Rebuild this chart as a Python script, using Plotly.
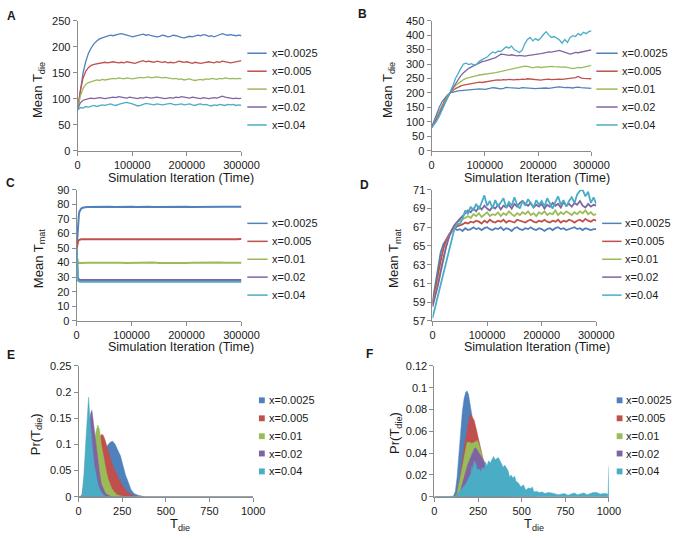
import plotly.graph_objects as go

W, H = 688, 539
FONT = "Liberation Sans, Arial, sans-serif"
TXT = "#1a1a1a"
GREY = "#8c8c8c"
COLORS = ["#4F81BD", "#C0504D", "#9BBB59", "#8064A2", "#4BACC6"]
LABELS = ["x=0.0025", "x=0.005", "x=0.01", "x=0.02", "x=0.04"]

# ---------------- data ----------------
T_AB = list(range(0, 300001, 5000))

A_0025 = [80,120,150,172,188,198,206,211,215,217,
          219,220,222,221,223,224,225,224,223,221,
          219,220,221,223,224,222,223,221,220,219,
          220,222,221,219,220,222,221,219,218,217,
          219,220,219,221,222,221,223,222,220,221,
          219,221,223,225,223,222,223,222,221,222,
          221]
A_005 = [80,115,140,153,160,164,166,167,168,169,
         170,169,170,171,170,169,170,169,171,170,
         169,168,170,172,173,171,172,171,170,172,
         171,170,171,169,170,169,170,172,171,170,
         171,169,168,170,169,168,169,170,171,170,
         169,171,170,172,171,170,169,170,171,172,
         173]
A_01 = [80,105,120,128,131,133,134,136,135,137,
        136,137,138,139,138,140,139,138,140,139,
        138,139,140,141,140,141,142,140,141,142,
        141,140,141,140,139,138,139,137,138,136,
        137,138,136,135,136,137,136,138,137,139,
        138,137,139,138,140,139,138,139,138,139,
        138]
A_02 = [80,92,97,99,100,101,100,101,102,101,
        100,101,102,103,102,104,103,102,101,103,
        102,101,100,102,101,103,102,101,102,103,
        102,101,100,101,102,101,103,102,104,103,
        102,101,103,102,101,100,102,101,100,101,
        102,101,103,105,103,102,101,100,101,100,
        101]
A_04 = [78,83,82,85,84,86,87,85,86,88,
        87,88,90,88,87,89,91,92,93,92,
        90,88,86,87,89,91,90,89,88,90,
        89,88,89,90,91,89,88,89,90,88,
        89,90,88,87,89,90,88,89,87,86,
        88,87,89,88,87,89,88,89,87,88,
        87]

B_0025 = [80,105,130,152,170,183,193,200,203,205,
          207,208,209,210,212,213,214,215,214,213,
          212,214,216,218,217,215,214,216,219,218,
          217,216,217,216,218,217,216,215,214,215,
          216,217,216,217,216,218,219,220,221,219,
          218,219,218,217,219,220,218,217,216,215,
          216]
B_005 = [80,100,120,140,158,175,190,200,208,215,
         220,224,227,229,231,233,235,236,237,236,
         238,240,242,243,244,245,244,246,245,247,
         246,245,247,246,248,247,249,248,247,246,
         243,244,246,247,248,246,247,249,248,247,
         248,250,249,251,253,257,252,250,249,250,
         249]
B_01 = [80,98,115,133,152,170,187,200,213,225,
        233,240,246,250,253,256,258,260,262,263,
        264,265,266,268,270,272,274,276,278,279,
        281,283,285,287,290,293,292,289,287,289,
        290,288,289,291,290,292,291,290,291,289,
        290,288,285,284,286,288,287,289,291,293,
        295]
B_02 = [80,95,110,128,148,167,185,200,217,233,
        248,260,270,278,285,290,295,300,305,308,
        310,313,316,318,322,328,334,333,331,330,
        332,329,328,330,328,327,329,330,332,333,
        335,336,338,340,342,341,343,346,347,344,
        340,336,334,337,340,339,341,343,344,345,
        349]
B_04 = [78,90,103,120,140,160,180,200,225,250,
        270,285,300,303,298,301,296,300,310,315,
        318,325,335,342,338,345,343,352,360,355,
        362,350,345,340,348,370,385,392,380,388,
        382,390,402,412,400,392,395,390,383,372,
        385,375,392,398,395,405,400,410,405,412,
        415]

T_C = [0,1000,2000,3000,4000,5000,6000,8000,10000,12000,15000,20000] + list(range(30000, 300001, 10000))
C_0025 = [50,58,65,70,73,75,76,77,77.5,77.8,78,78.2,
          78.3,78.2,78.4,78.3,78.2,78.4,78.3,78.3,78.2,78.4,
          78.3,78.2,78.3,78.4,78.3,78.2,78.3,78.4,78.2,78.3,
          78.3,78.4,78.2,78.3,78.4,78.3,78.2,78.3]
C_005 = [50,53,54.5,55.2,55.5,55.7,55.8,56,56,56.1,56,56.1,
         56.0,56.1,55.9,56.0,56.1,56.0,55.9,56.1,56.0,56.0,
         56.1,55.9,56.0,56.1,56.0,56.0,55.9,56.1,56.0,56.1,
         56.0,55.9,56.0,56.1,56.0,56.0,56.1,56.2]
C_01 = [45,41,40,39.8,39.7,39.6,39.7,39.8,39.8,39.9,39.8,39.9,
        39.9,40.0,39.8,39.9,40.0,39.9,39.8,39.9,40.0,39.9,
        39.9,40.0,39.8,39.9,40.0,39.9,39.9,39.8,39.9,40.0,
        39.9,39.8,39.9,40.0,39.9,39.9,40.0,39.9]
C_02 = [50,36,30,28.8,28.4,28.2,28.1,28.0,28.0,28.1,28.0,28.1,
        28.1,28.0,28.2,28.1,28.0,28.1,28.2,28.1,28.0,28.1,
        28.1,28.2,28.0,28.1,28.1,28.0,28.2,28.1,28.1,28.0,
        28.1,28.2,28.1,28.0,28.1,28.1,28.2,28.1]
C_04 = [50,33,28,27.3,27.0,26.9,26.8,26.8,26.9,26.8,26.9,26.8,
        26.8,26.9,26.7,26.8,26.9,26.8,26.7,26.8,26.9,26.8,
        26.8,26.7,26.9,26.8,26.8,26.9,26.7,26.8,26.8,26.9,
        26.8,26.7,26.8,26.9,26.8,26.8,26.7,26.8]

D_0025 = [59.0,60.8,62.8,64.3,65.2,65.7,66.1,66.5,66.9,66.7,
          66.8,66.6,66.9,66.7,66.8,67.0,66.8,66.9,66.7,66.9,
          67.0,66.8,66.7,66.9,66.8,67.0,66.7,66.9,66.8,66.6,
          66.9,67.0,66.8,66.7,66.9,66.8,67.0,66.8,66.7,66.9,
          66.8,66.6,66.8,66.9,66.7,66.9,67.0,66.8,66.9,66.7,
          66.8,66.9,67.0,66.8,66.9,66.7,66.9,66.8,66.7,66.8,
          66.8]
D_005 = [58.8,60.2,61.8,63.4,64.7,65.6,66.2,66.6,66.9,67.1,
         67.2,67.3,67.5,67.4,67.6,67.5,67.7,67.6,67.4,67.7,
         67.5,67.8,67.6,67.5,67.7,67.6,67.8,67.5,67.7,67.6,
         67.5,67.8,67.7,67.6,67.5,67.7,67.8,67.6,67.5,67.7,
         67.6,67.8,67.6,67.5,67.7,67.6,67.8,67.5,67.7,67.6,
         67.8,67.7,67.5,67.7,67.8,67.6,67.9,67.7,67.6,67.8,
         67.7]
D_01 = [58.7,59.8,61.0,62.5,63.8,65.0,66.0,66.6,67.1,67.5,
        67.7,67.9,68.0,68.2,68.0,68.4,68.2,68.5,68.1,68.4,
        68.6,68.2,68.4,68.3,68.6,68.2,68.5,68.3,68.7,68.4,
        68.2,68.5,68.3,68.6,68.4,68.7,68.3,68.5,68.2,68.6,
        68.4,68.7,68.3,68.5,68.4,68.8,68.3,68.6,68.4,68.7,
        68.5,68.3,68.6,68.4,68.7,68.5,68.8,68.4,68.6,68.3,
        68.4]
D_02 = [58.5,59.6,60.8,62.2,63.6,64.9,65.9,66.7,67.2,67.6,
        67.9,68.2,68.5,68.8,68.6,69.0,68.7,69.2,68.9,69.3,
        69.0,68.8,69.2,69.0,69.4,68.9,69.3,69.1,69.4,69.0,
        69.5,69.2,69.6,69.8,69.5,69.3,69.6,69.1,69.4,69.2,
        69.5,69.0,69.4,69.2,69.6,69.3,69.5,69.1,69.7,69.3,
        69.5,69.2,69.6,69.4,69.8,69.3,69.1,69.5,69.2,69.4,
        69.3]
D_04 = [57.3,58.5,59.5,60.8,62.0,63.3,64.6,65.8,66.8,67.4,
        67.3,67.9,68.8,68.4,69.2,68.8,69.5,68.9,69.7,70.4,
        69.3,69.8,69.0,69.9,69.2,69.6,70.1,69.1,69.7,69.3,
        70.2,69.4,69.0,69.8,69.3,70.0,69.5,69.1,69.9,69.4,
        69.8,69.2,70.1,69.5,69.0,69.7,70.3,69.4,69.9,69.2,
        69.8,70.2,69.6,70.5,70.9,71.0,70.3,70.8,69.6,70.2,
        69.5]

E_T_0025 = [0,10,30,50,70,90,110,130,150,160,170,180,195,210,220,230,240,250,260,270,280,290,300,310,320,340,360,380,1000]
E_P_0025 = [0,0,0.001,0.005,0.015,0.03,0.05,0.07,0.085,0.095,0.1,0.104,0.106,0.1,0.092,0.085,0.078,0.065,0.05,0.04,0.032,0.022,0.014,0.009,0.006,0.003,0.001,0,0]
E_T_005 = [0,30,50,70,90,110,120,130,140,150,160,170,180,190,200,210,220,230,240,250,260,270,280,290,300,320,340,1000]
E_P_005 = [0,0.001,0.01,0.03,0.06,0.095,0.11,0.119,0.118,0.11,0.098,0.087,0.076,0.065,0.056,0.05,0.042,0.034,0.028,0.022,0.017,0.012,0.009,0.006,0.004,0.002,0,0]
E_T_01 = [0,20,40,60,80,90,100,110,120,130,140,150,160,170,180,190,200,210,220,240,260,1000]
E_P_01 = [0,0.001,0.01,0.04,0.08,0.105,0.125,0.137,0.128,0.1,0.08,0.062,0.046,0.033,0.023,0.016,0.011,0.007,0.004,0.002,0,0]
E_T_02 = [0,10,20,30,40,50,60,70,76,80,90,100,110,120,130,140,150,160,170,190,1000]
E_P_02 = [0,0,0.005,0.03,0.07,0.11,0.14,0.16,0.165,0.155,0.125,0.095,0.068,0.045,0.025,0.015,0.009,0.005,0.003,0,0]
E_T_04 = [0,10,20,30,40,50,57,65,70,80,90,100,110,120,130,140,150,160,1000]
E_P_04 = [0,0,0.003,0.04,0.1,0.165,0.19,0.15,0.125,0.09,0.06,0.04,0.025,0.015,0.008,0.004,0.002,0,0]

F_T_0025 = [0,100,110,120,130,140,150,160,170,180,187,195,200,210,220,240,260,280,300,340,380,420,1000]
F_P_0025 = [0,0,0.001,0.005,0.018,0.035,0.058,0.078,0.09,0.096,0.097,0.094,0.089,0.076,0.066,0.05,0.036,0.025,0.016,0.006,0.002,0,0]
F_T_005 = [0,110,120,130,140,150,160,170,180,190,200,206,215,228,240,246,255,265,280,300,320,350,400,450,1000]
F_P_005 = [0,0,0.001,0.004,0.01,0.02,0.033,0.045,0.055,0.064,0.072,0.076,0.074,0.07,0.062,0.058,0.05,0.043,0.034,0.024,0.016,0.008,0.002,0,0]
F_T_01 = [0,120,130,140,150,160,170,180,187,200,215,230,246,255,265,274,285,300,320,350,400,450,500,1000]
F_P_01 = [0,0,0.003,0.01,0.018,0.027,0.036,0.044,0.05,0.05,0.049,0.05,0.0515,0.048,0.042,0.036,0.031,0.026,0.02,0.012,0.005,0.002,0,0]
F_T_02 = [0,130,140,150,160,170,180,190,200,210,220,228,237,245,255,265,283,302,320,350,400,450,500,600,1000]
F_P_02 = [0,0,0.002,0.006,0.012,0.018,0.024,0.029,0.033,0.037,0.041,0.044,0.045,0.043,0.04,0.037,0.033,0.026,0.02,0.015,0.008,0.004,0.002,0,0]
F_T_04 = [0,110,117,130,140,154,165,181,190,200,
          209,215,220,228,235,240,246,255,265,275,
          285,293,300,311,320,330,339,348,357,366,
          376,385,394,403,413,422,431,440,450,459,
          468,480,496,510,524,538,552,561,570,585,
          600,617,635,650,672,690,710,730,746,765,
          780,801,820,840,857,875,895,910,931,950,
          970,987,995,1000]
F_P_04 = [0,0,0.0005,0.002,0.004,0.006,0.009,0.012,0.015,0.018,
          0.021,0.028,0.025,0.033,0.03,0.029,0.024,0.026,0.023,0.027,
          0.025,0.032,0.028,0.033,0.031,0.035,0.037,0.034,0.035,0.036,
          0.033,0.03,0.027,0.029,0.026,0.024,0.018,0.02,0.017,0.019,
          0.014,0.013,0.009,0.011,0.006,0.008,0.0076,0.009,0.0045,0.005,
          0.004,0.0045,0.003,0.004,0.0036,0.003,0.002,0.0025,0.003,0.0015,
          0.0025,0.0036,0.002,0.003,0.0036,0.002,0.003,0.004,0.004,0.0025,
          0.003,0.003,0.002,0.028]

# ---------------- figure ----------------
def px(x):
    return x / W

def py(y):
    return 1 - y / H

fig = go.Figure()

line_panels = [
    ("x", "y", T_AB, [A_0025, A_005, A_01, A_02, A_04], 1.3),
    ("x2", "y2", T_AB, [B_0025, B_005, B_01, B_02, B_04], 1.3),
    ("x3", "y3", T_C, [C_0025, C_005, C_01, C_02, C_04], 2.0),
    ("x4", "y4", T_AB, [D_0025, D_005, D_01, D_02, D_04], 1.8),
]
for xa, ya, t, series, lw in line_panels:
    for i, s in enumerate(series):
        fig.add_trace(go.Scatter(x=t, y=s, mode="lines", xaxis=xa, yaxis=ya,
                                 line=dict(color=COLORS[i], width=lw),
                                 name=LABELS[i], showlegend=False))

area_panels = [
    ("x5", "y5", [(E_T_0025, E_P_0025), (E_T_005, E_P_005), (E_T_01, E_P_01), (E_T_02, E_P_02), (E_T_04, E_P_04)]),
    ("x6", "y6", [(F_T_0025, F_P_0025), (F_T_005, F_P_005), (F_T_01, F_P_01), (F_T_02, F_P_02), (F_T_04, F_P_04)]),
]
for xa, ya, series in area_panels:
    for i, (t, p) in enumerate(series):
        fig.add_trace(go.Scatter(x=t, y=p, mode="lines", xaxis=xa, yaxis=ya, fill="tozeroy",
                                 fillcolor=COLORS[i], line=dict(color=COLORS[i], width=0.5),
                                 name=LABELS[i], showlegend=False))

# plot-area pixel boxes: (left, right, top, bottom)
boxes = {
    1: (77, 246, 15, 148),
    2: (442, 607, 15, 148),
    3: (76, 246, 188, 322),
    4: (443, 612, 188, 322),
    5: (78, 258, 368, 502),
    6: (445, 625, 368, 502),
}
yranges = {1: [0, 250], 2: [0, 450], 3: [0, 90], 4: [57, 71], 5: [0, 0.25], 6: [0, 0.12]}
ydticks = {1: 50, 2: 50, 3: 10, 4: 2, 5: 0.05, 6: 0.02}

common = dict(showline=True, linecolor=GREY, linewidth=1, ticks="outside", ticklen=4,
              tickcolor=GREY, tickwidth=1, showgrid=False, zeroline=False,
              tickfont=dict(size=11, color=TXT, family=FONT))
layout = {}
for k, (l, r, t, b) in boxes.items():
    sfx = "" if k == 1 else str(k)
    if k <= 4:
        xcfg = dict(range=[0, 300000], tick0=0, dtick=100000, tickformat="d")
    else:
        xcfg = dict(range=[0, 1000], tick0=0, dtick=250)
    layout["xaxis" + sfx] = dict(domain=[px(l), px(r)], anchor="y" + sfx, **xcfg, **common)
    layout["yaxis" + sfx] = dict(domain=[py(b), py(t)], anchor="x" + sfx, range=yranges[k],
                                 tick0=yranges[k][0], dtick=ydticks[k], **common)

annotations = []
shapes = []

def ann(text, x, y, size=13, bold=False, angle=0, xanchor="center", yanchor="middle"):
    annotations.append(dict(text=("<b>%s</b>" % text) if bold else text, x=px(x), y=py(y),
                            xref="paper", yref="paper", showarrow=False, textangle=angle,
                            xanchor=xanchor, yanchor=yanchor,
                            font=dict(size=size, color=TXT, family=FONT)))

# panel letters
for letter, x, y in [("A", 9, 10), ("B", 371, 8), ("C", 8, 181), ("D", 373, 183), ("E", 8, 357), ("F", 378, 356)]:
    ann(letter, x, y, size=12, bold=True)

# axis titles
SIM = "Simulation Iteration (Time)"
ann(SIM, 184, 176, size=12.5)
ann(SIM, 551, 176, size=12.5)
ann(SIM, 184, 349, size=12.5)
ann(SIM, 551, 349, size=12.5)
ann("T<sub>die</sub>", 183, 530, size=13)
ann("T<sub>die</sub>", 548, 530, size=13)
ann("Mean T<sub>die</sub>", 36, 86, size=13, angle=-90)
ann("Mean T<sub>die</sub>", 397, 86, size=13, angle=-90)
ann("Mean T<sub>mat</sub>", 37, 258, size=13, angle=-90)
ann("Mean T<sub>mat</sub>", 404, 258, size=13, angle=-90)
ann("Pr(T<sub>die</sub>)", 34, 438, size=13, angle=-90)
ann("Pr(T<sub>die</sub>)", 405, 437, size=13, angle=-90)

# legends (line samples / colour squares + labels)
line_legends = [
    (252, 272, 275, [48.3, 66.7, 85, 103.3, 121.7]),
    (612, 634, 636, [48.3, 66.7, 85, 103.3, 121.7]),
    (252, 273, 275, [222.3, 240.7, 259, 277.3, 295.7]),
    (618, 638, 640, [222.3, 240.7, 259, 277.3, 295.7]),
]
for x0, x1, xt, ys in line_legends:
    for i, y in enumerate(ys):
        shapes.append(dict(type="line", xref="paper", yref="paper", x0=px(x0), x1=px(x1),
                           y0=py(y), y1=py(y), line=dict(color=COLORS[i], width=1.5)))
        ann(LABELS[i], xt, y, size=11, xanchor="left")
square_legends = [
    (264, 272, [403.3, 421.7, 440, 457.7, 476]),
    (633, 641, [403.3, 421.7, 440, 457.7, 476]),
]
for x0, xt, ys in square_legends:
    for i, y in enumerate(ys):
        shapes.append(dict(type="rect", xref="paper", yref="paper", x0=px(x0), x1=px(x0 + 6),
                           y0=py(y + 3), y1=py(y - 3), fillcolor=COLORS[i], line=dict(width=0)))
        ann(LABELS[i], xt, y, size=11, xanchor="left")

fig.update_layout(
    width=W, height=H, margin=dict(l=0, r=0, t=0, b=0),
    paper_bgcolor="white", plot_bgcolor="white",
    font=dict(family=FONT, color=TXT),
    showlegend=False, annotations=annotations, shapes=shapes,
    hovermode=False,
    **layout,
)

fig.write_html("out.html", config={"displayModeBar": False, "staticPlot": True},
               post_script="document.body.style.margin='0px';document.body.style.overflow='hidden';")
